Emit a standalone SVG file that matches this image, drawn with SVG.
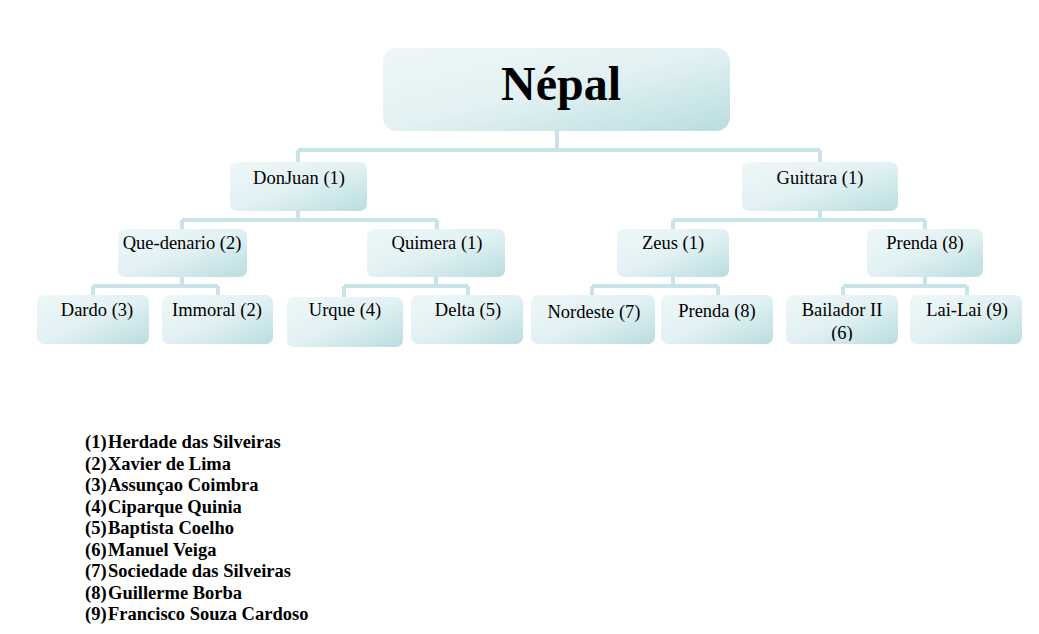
<svg xmlns="http://www.w3.org/2000/svg" width="1039" height="634" viewBox="0 0 1039 634">
<defs>
<linearGradient id="g" x1="0" y1="0" x2="1" y2="1">
<stop offset="0" stop-color="#eef7f8"/>
<stop offset="0.5" stop-color="#e2f1f3"/>
<stop offset="1" stop-color="#b9dde0"/>
</linearGradient>
<clipPath id="cb"><rect x="786" y="295" width="112" height="46"/></clipPath>
</defs>
<style>
.b{fill:url(#g);stroke:none}
.t{font-family:"Liberation Serif",serif;font-size:18.5px;fill:#000;text-anchor:middle}
.l{stroke:#c8e4e6;stroke-width:4;fill:none}
.k{font-family:"Liberation Serif",serif;font-size:18.5px;font-weight:bold;fill:#000}
</style>
<rect width="1039" height="634" fill="#fff"/>
<g id="connectors">
<path class="l" d="M557 131V150M298 150H820M298 150V162M820 150V162"/>
<path class="l" d="M298 211V220M182 220H437M182 220V229M437 220V229"/>
<path class="l" d="M820 211V220M673 220H925M673 220V229M925 220V229"/>
<path class="l" d="M182 277V286M93 286H218M93 286V295M218 286V295"/>
<path class="l" d="M436 277V286M344 286H468M344 286V297M468 286V295"/>
<path class="l" d="M673 277V286M592 286H718M592 286V295M718 286V295"/>
<path class="l" d="M925 277V286M843 286H967M843 286V295M967 286V295"/>
</g>
<g id="root"><rect class="b" x="383" y="48" width="347" height="83" rx="14"/><text x="561" y="100" font-family="Liberation Serif,serif" font-size="48" font-weight="bold" text-anchor="middle">Népal</text></g>
<g id="donjuan"><rect class="b" x="230" y="162" width="137" height="49" rx="7"/><text class="t" x="299" y="184">DonJuan (1)</text></g>
<g id="guittara"><rect class="b" x="742" y="162" width="156" height="49" rx="7"/><text class="t" x="820" y="184">Guittara (1)</text></g>
<g id="quedenario"><rect class="b" x="118" y="229" width="129" height="48" rx="7"/><text class="t" x="182" y="249">Que-denario (2)</text></g>
<g id="quimera"><rect class="b" x="367" y="229" width="138" height="48" rx="7"/><text class="t" x="437" y="249">Quimera (1)</text></g>
<g id="zeus"><rect class="b" x="617" y="229" width="112" height="48" rx="7"/><text class="t" x="673" y="249">Zeus (1)</text></g>
<g id="prenda1"><rect class="b" x="867" y="229" width="116" height="48" rx="7"/><text class="t" x="925" y="249">Prenda (8)</text></g>
<g id="dardo"><rect class="b" x="37" y="295" width="112" height="49" rx="7"/><text class="t" x="97" y="316">Dardo (3)</text></g>
<g id="immoral"><rect class="b" x="162" y="295" width="111" height="49" rx="7"/><text class="t" x="217" y="316">Immoral (2)</text></g>
<g id="urque"><rect class="b" x="287" y="297" width="116" height="50" rx="7"/><text class="t" x="345" y="316">Urque (4)</text></g>
<g id="delta"><rect class="b" x="411" y="295" width="112" height="49" rx="7"/><text class="t" x="468" y="316">Delta (5)</text></g>
<g id="nordeste"><rect class="b" x="531" y="295" width="124" height="49" rx="7"/><text class="t" x="594" y="318">Nordeste (7)</text></g>
<g id="prenda2"><rect class="b" x="661" y="295" width="112" height="49" rx="7"/><text class="t" x="717" y="317">Prenda (8)</text></g>
<g id="bailador"><rect class="b" x="786" y="295" width="112" height="49" rx="7"/><g clip-path="url(#cb)"><text class="t" x="842" y="316">Bailador II</text><text class="t" x="842" y="339">(6)</text></g></g>
<g id="lailai"><rect class="b" x="910" y="295" width="112" height="49" rx="7"/><text class="t" x="967" y="316">Lai-Lai (9)</text></g>
<g id="legend" class="k">
<text x="85" y="448">(1)</text><text x="108" y="448">Herdade das Silveiras</text>
<text x="85" y="470">(2)</text><text x="108" y="470">Xavier de Lima</text>
<text x="85" y="491">(3)</text><text x="108" y="491">Assunçao Coimbra</text>
<text x="85" y="513">(4)</text><text x="108" y="513">Ciparque Quinia</text>
<text x="85" y="534">(5)</text><text x="108" y="534">Baptista Coelho</text>
<text x="85" y="556">(6)</text><text x="108" y="556">Manuel Veiga</text>
<text x="85" y="577">(7)</text><text x="108" y="577">Sociedade das Silveiras</text>
<text x="85" y="599">(8)</text><text x="108" y="599">Guillerme Borba</text>
<text x="85" y="620">(9)</text><text x="108" y="620">Francisco Souza Cardoso</text>
</g>
</svg>
